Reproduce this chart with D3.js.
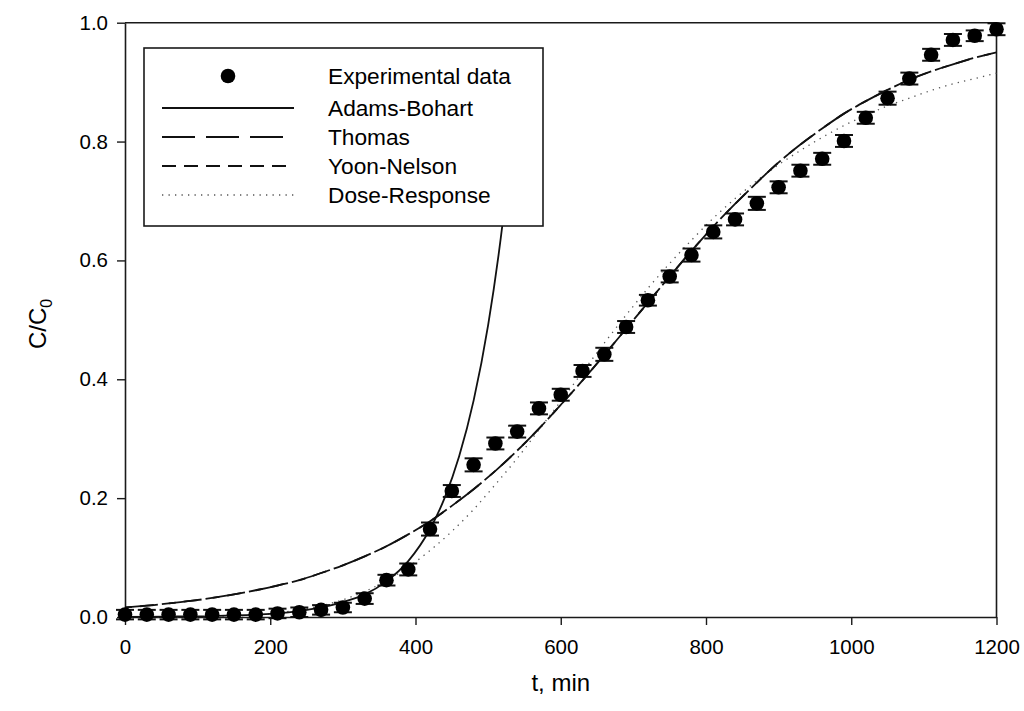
<!DOCTYPE html>
<html>
<head>
<meta charset="utf-8">
<script src="https://cdn.jsdelivr.net/npm/d3@7"></script>
<style>
  html, body { margin: 0; padding: 0; background: #fff; }
  svg { display: block; }
  text { font-family: "Liberation Sans", Arial, Helvetica, sans-serif; fill: #000; }
</style>
</head>
<body>
<svg id="chart" width="1024" height="711"></svg>
<script>
// Breakthrough curve: measured C/C0 with error bars and four fitted models
const tExp = [0, 30, 60, 90, 120, 150, 180, 210, 240, 270, 300, 330, 360, 390, 420,
  450, 480, 510, 540, 570, 600, 630, 660, 690, 720, 750, 780, 810, 840, 870, 900,
  930, 960, 990, 1020, 1050, 1080, 1110, 1140, 1170, 1200];
const cExp = [0.004, 0.004, 0.004, 0.004, 0.004, 0.004, 0.004, 0.006, 0.008, 0.012, 0.016,
  0.031, 0.062, 0.080, 0.148, 0.212, 0.256, 0.292, 0.312, 0.351, 0.374, 0.414, 0.442,
  0.488, 0.533, 0.573, 0.609, 0.648, 0.669, 0.696, 0.723, 0.751, 0.771, 0.801, 0.840,
  0.873, 0.906, 0.946, 0.971, 0.978, 0.989];
const cErr = [0.008, 0.008, 0.008, 0.008, 0.008, 0.008, 0.008, 0.008, 0.008, 0.008, 0.008,
  0.009, 0.009, 0.010, 0.011, 0.010, 0.011, 0.010, 0.010, 0.010, 0.010, 0.010, 0.011,
  0.010, 0.009, 0.010, 0.011, 0.011, 0.010, 0.011, 0.010, 0.010, 0.010, 0.010, 0.010,
  0.011, 0.010, 0.010, 0.010, 0.009, 0.010];

// Model curves, sampled along t
const tModel = [0, 30, 60, 90, 120, 150, 180, 210, 240, 270, 300, 330, 360, 390, 420,
  450, 480, 510, 540, 570, 600, 630, 660, 690, 720, 750, 780, 810, 840, 870, 900,
  930, 960, 990, 1020, 1050, 1080, 1110, 1140, 1170, 1200];
const cThomas = [0.016, 0.019, 0.023, 0.027, 0.032, 0.038, 0.045, 0.053, 0.062, 0.074,
  0.087, 0.102, 0.119, 0.139, 0.161, 0.187, 0.215, 0.246, 0.280, 0.317, 0.357, 0.398,
  0.441, 0.485, 0.529, 0.573, 0.616, 0.657, 0.695, 0.731, 0.765, 0.795, 0.822, 0.847,
  0.868, 0.887, 0.904, 0.918, 0.930, 0.941, 0.950];
const cYoonNelson = [0.016, 0.019, 0.023, 0.027, 0.032, 0.038, 0.045, 0.053, 0.062, 0.074,
  0.087, 0.102, 0.119, 0.139, 0.161, 0.187, 0.215, 0.246, 0.280, 0.317, 0.357, 0.398,
  0.441, 0.485, 0.529, 0.573, 0.616, 0.657, 0.695, 0.731, 0.765, 0.795, 0.822, 0.847,
  0.868, 0.887, 0.904, 0.918, 0.930, 0.941, 0.950];
const cDoseResponse = [0.000, 0.000, 0.000, 0.000, 0.001, 0.002, 0.003, 0.007, 0.012, 0.019,
  0.029, 0.043, 0.061, 0.084, 0.112, 0.144, 0.181, 0.223, 0.267, 0.315, 0.363, 0.412,
  0.461, 0.508, 0.553, 0.595, 0.634, 0.671, 0.704, 0.734, 0.761, 0.785, 0.807, 0.827,
  0.844, 0.860, 0.873, 0.886, 0.897, 0.906, 0.915];
const tAdams = [0, 60, 120, 180, 210, 240, 270, 300, 330, 360, 390, 420, 440, 460, 480, 500, 520, 540];
const cAdams = [0.0003, 0.0007, 0.0016, 0.004, 0.006, 0.010, 0.016, 0.025, 0.038, 0.060,
  0.094, 0.148, 0.200, 0.270, 0.364, 0.491, 0.663, 0.895];

const xTicks = [0, 200, 400, 600, 800, 1000, 1200];
const yTicks = [0.0, 0.2, 0.4, 0.6, 0.8, 1.0];

const legendItems = [
  { label: "Experimental data", kind: "dot" },
  { label: "Adams-Bohart", kind: "line", dash: null },
  { label: "Thomas", kind: "line", dash: "33,11" },
  { label: "Yoon-Nelson", kind: "line", dash: "14,8" },
  { label: "Dose-Response", kind: "dotted" }
];

const svg = d3.select("#chart");
const x = d3.scaleLinear().domain([0, 1200]).range([125, 996.5]);
const y = d3.scaleLinear().domain([0, 1]).range([617, 22.7]);

const axisColor = "#1a1a1a";

// Frame (top and right sides)
svg.append("line").attr("x1", x(0)).attr("x2", x(1200)).attr("y1", y(1)).attr("y2", y(1))
  .attr("stroke", axisColor).attr("stroke-width", 1.6);
svg.append("line").attr("x1", x(1200)).attr("x2", x(1200)).attr("y1", y(1)).attr("y2", y(0))
  .attr("stroke", axisColor).attr("stroke-width", 1.6);

// Bottom axis
const gx = svg.append("g").attr("transform", `translate(0,${y(0)})`)
  .call(d3.axisBottom(x).tickValues(xTicks).tickFormat(d3.format("d")).tickSize(8).tickSizeOuter(0).tickPadding(14));
// Left axis
const gy = svg.append("g").attr("transform", `translate(${x(0)},0)`)
  .call(d3.axisLeft(y).tickValues(yTicks).tickFormat(d3.format(".1f")).tickSize(8).tickSizeOuter(0).tickPadding(9));

[gx, gy].forEach(g => {
  g.select(".domain").attr("stroke", axisColor).attr("stroke-width", 1.6);
  g.selectAll(".tick line").attr("stroke", axisColor).attr("stroke-width", 1.4);
  g.selectAll(".tick text").attr("font-size", 20.5).attr("fill", "#000")
    .attr("font-family", "'Liberation Sans', Arial, sans-serif");
});

// Axis titles
svg.append("text").attr("x", (x(0) + x(1200)) / 2).attr("y", 691)
  .attr("text-anchor", "middle").attr("font-size", 24).text("t, min");
const yTitle = svg.append("text")
  .attr("transform", `translate(46,${(y(0) + y(1)) / 2 + 4}) rotate(-90)`)
  .attr("text-anchor", "middle").attr("font-size", 24);
yTitle.append("tspan").text("C/C");
yTitle.append("tspan").attr("font-size", 16).attr("dy", 6).text("0");

// Model curves
const line = d3.line().x(d => x(d[0])).y(d => y(d[1])).curve(d3.curveMonotoneX);
const plot = svg.append("g");

plot.append("path").datum(tModel.map((t, i) => [t, cDoseResponse[i]]))
  .attr("d", line).attr("fill", "none").attr("stroke", "#555")
  .attr("stroke-width", 1.3).attr("stroke-dasharray", "1.3,5.2");
plot.append("path").datum(tModel.map((t, i) => [t, cThomas[i]]))
  .attr("d", line).attr("fill", "none").attr("stroke", "#111")
  .attr("stroke-width", 1.8).attr("stroke-dasharray", "33,11");
plot.append("path").datum(tModel.map((t, i) => [t, cYoonNelson[i]]))
  .attr("d", line).attr("fill", "none").attr("stroke", "#111")
  .attr("stroke-width", 1.8).attr("stroke-dasharray", "14,8").attr("stroke-dashoffset", 7);
plot.append("path").datum(tAdams.map((t, i) => [t, cAdams[i]]))
  .attr("d", line).attr("fill", "none").attr("stroke", "#111")
  .attr("stroke-width", 1.8);

// Error bars
const pts = tExp.map((t, i) => ({ t, c: cExp[i], e: cErr[i] }));
const eb = plot.append("g").attr("stroke", "#111").attr("stroke-width", 2);
pts.forEach(p => {
  eb.append("line").attr("x1", x(p.t)).attr("x2", x(p.t))
    .attr("y1", y(p.c + p.e)).attr("y2", y(p.c - p.e));
  [p.c + p.e, p.c - p.e].forEach(v => {
    eb.append("line").attr("x1", x(p.t) - 9).attr("x2", x(p.t) + 9)
      .attr("y1", y(v)).attr("y2", y(v));
  });
});

// Experimental points
plot.append("g").selectAll("circle").data(pts).join("circle")
  .attr("cx", d => x(d.t)).attr("cy", d => y(d.c)).attr("r", 7.3).attr("fill", "#000");

// Legend
const lg = svg.append("g");
lg.append("rect").attr("x", 144).attr("y", 48).attr("width", 399).attr("height", 178)
  .attr("fill", "#fff").attr("stroke", axisColor).attr("stroke-width", 1.6);
const rowY = [76, 108, 137, 166, 195];
legendItems.forEach((item, i) => {
  const cy = rowY[i];
  if (item.kind === "dot") {
    lg.append("circle").attr("cx", 228).attr("cy", cy).attr("r", 7.3).attr("fill", "#000");
  } else if (item.kind === "dotted") {
    lg.append("line").attr("x1", 162).attr("x2", 294).attr("y1", cy).attr("y2", cy)
      .attr("stroke", "#555").attr("stroke-width", 1.3).attr("stroke-dasharray", "1.3,5.2");
  } else {
    const l = lg.append("line").attr("x1", 162).attr("x2", 294).attr("y1", cy).attr("y2", cy)
      .attr("stroke", "#111").attr("stroke-width", 1.8);
    if (item.dash) l.attr("stroke-dasharray", item.dash);
  }
  lg.append("text").attr("x", 328).attr("y", cy + 8).attr("font-size", 22.7).text(item.label);
});
</script>
</body>
</html>
